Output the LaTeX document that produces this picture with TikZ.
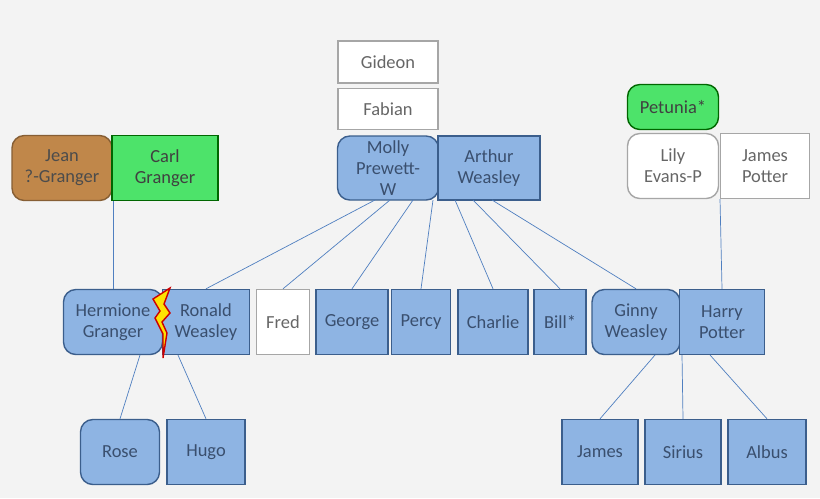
\documentclass[tikz,border=0pt]{standalone}
\usepackage{fontspec}
\setmainfont{Carlito}
\usetikzlibrary{positioning}
\definecolor{bg}{HTML}{F3F3F3}
\definecolor{kid}{HTML}{8EB4E3}
\definecolor{kidline}{HTML}{3B5E8C}
\definecolor{txt}{HTML}{3A4F6E}
\definecolor{link}{HTML}{4F7FC0}
\definecolor{grn}{HTML}{4DE36A}
\definecolor{brn}{HTML}{C0874A}
\tikzset{
  person/.style={draw=kidline, fill=kid, thick, text=txt, align=center,
    minimum height=1.3cm, inner sep=1pt, font=\fontsize{10.5}{12}\selectfont},
  wed/.style={person, rounded corners=7pt},
  outsider/.style={person, draw=gray!70, fill=white, text=gray!80!black},
  kidlink/.style={draw=link, thin}
}
\begin{document}
\begin{tikzpicture}[x=0.02cm,y=-0.02cm]
  \useasboundingbox[fill=bg] (0,0) rectangle (820,498);
  % parents
  \node (gideon) [outsider, minimum width=2cm, minimum height=0.84cm] at (388,62) {Gideon};
  \node (fabian) [outsider, minimum width=2cm, minimum height=0.82cm] at (388,109) {Fabian};
  \node (molly) [wed, minimum width=2.02cm, minimum height=1.28cm] at (388,168) {Molly\\Prewett-\\W};
  \node (arthur) [person, minimum width=2.04cm, minimum height=1.28cm] at (489,168) {Arthur\\Weasley};
  \node (jean) [wed, fill=brn, draw=brn!70!black, text=black!70, minimum width=2cm] at (62,168) {Jean\\?-Granger};
  \node (carl) [person, fill=grn, draw=green!40!black, text=black!75, minimum width=2.12cm] at (165,168) {Carl\\Granger};
  \node (petunia) [wed, fill=grn, draw=green!40!black, text=black!75, minimum width=1.82cm, minimum height=0.9cm] at (673,107) {Petunia*};
  \node (lily) [outsider, rounded corners=7pt, minimum width=1.82cm] at (673,166) {Lily\\Evans-P};
  \node (jamesp) [outsider, minimum width=1.78cm] at (765,166) {James\\Potter};
  % children
  \node (hermione) [wed, minimum width=1.98cm] at (113,322) {Hermione\\Granger};
  \node (ronald) [person, minimum width=1.74cm] at (206,322) {Ronald\\Weasley};
  \node (fred) [outsider, minimum width=1.06cm] at (283,322) {Fred};
  \node (george) [person, minimum width=1.44cm] at (352,322) {George};
  \node (percy) [person, minimum width=1.18cm] at (421,322) {Percy};
  \node (charlie) [person, minimum width=1.4cm] at (493,322) {Charlie};
  \node (bill) [person, minimum width=1.04cm] at (560,322) {Bill*};
  \node (ginny) [wed, minimum width=1.76cm] at (636,322) {Ginny\\Weasley};
  \node (harry) [person, minimum width=1.7cm] at (722,322) {Harry\\Potter};
  % grandchildren
  \node (rose) [wed, minimum width=1.58cm] at (120,452) {Rose};
  \node (hugo) [person, minimum width=1.56cm] at (206,452) {Hugo};
  \node (james) [person, minimum width=1.52cm] at (600,452) {James};
  \node (sirius) [person, minimum width=1.52cm] at (683,452) {Sirius};
  \node (albus) [person, minimum width=1.56cm] at (767,452) {Albus};
  % links
  \coordinate (gr) at (113,201);
  \coordinate (lp) at (720,199);
  \foreach \x/\kid in {375/ronald, 390/fred, 413/george, 433/percy, 455/charlie, 473/bill, 492/ginny}
    \draw[kidlink] (\x,200) -- (\kid.north);
  \draw[kidlink] (gr) -- (hermione.north);
  \draw[kidlink] (lp) -- (harry.north);
  \draw[kidlink] (140,355) -- (rose.north);
  \draw[kidlink] (178,355) -- (hugo.north);
  \draw[kidlink] (655,355) -- (james.north);
  \draw[kidlink] (682,355) -- (sirius.north);
  \draw[kidlink] (710,355) -- (albus.north);
  % lightning
  \draw[red!80!black, thick, fill=yellow!85!orange, line join=miter]
    (170,288) -- (153,299) -- (160,311) -- (155,318) -- (163,334) -- (163,358)
    -- (167,333) -- (162,322) -- (170,313) -- (164,304) -- cycle;
\end{tikzpicture}
\end{document}
